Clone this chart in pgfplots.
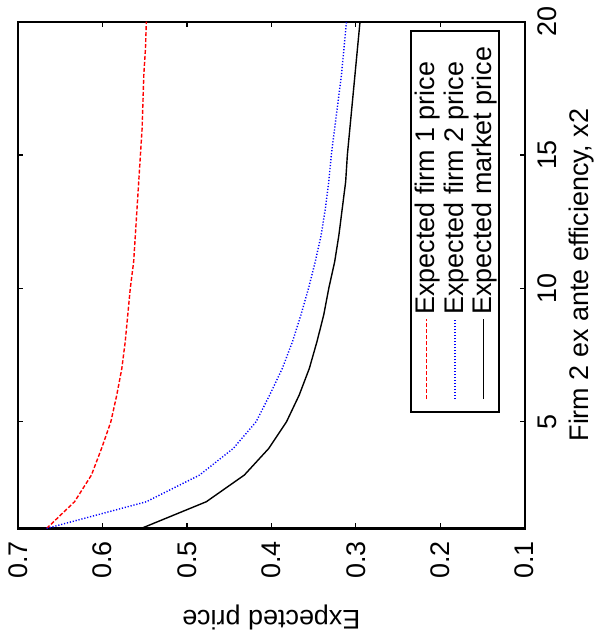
\documentclass[border=0pt]{standalone}
\usepackage{fontspec}
\setmainfont{Liberation Sans}
\usepackage{pgfplots}
\pgfplotsset{compat=1.18}
\begin{document}
\begin{tikzpicture}[rotate=90, transform shape]
\begin{axis}[
  width=254pt, height=254pt, scale only axis,
  xmin=1, xmax=20, ymin=0.1, ymax=0.7,
  xtick={5,10,15,20},
  ytick={0.1,0.2,0.3,0.4,0.5,0.6,0.7},
  yticklabel style={/pgf/number format/fixed, /pgf/number format/precision=1, xshift=-3pt},
  xticklabel style={yshift=-3pt},
  /pgf/number format/assume math mode=true,
  font=\fontsize{13.5}{16}\selectfont,
  tick align=inside, major tick length=2.5pt,
  tick style={line width=0.7pt, black},
  axis line style={line width=1.1pt},
  xlabel={Firm 2 ex ante efficiency, x2},
  ylabel={Expected price},
  xlabel style={inner sep=0pt, yshift=-2.5pt},
  ylabel style={inner sep=0pt, yshift=9.5pt},
  legend style={at={(axis description cs:0.984,0.049)}, anchor=south east, line width=1pt, font=\fontsize{13.5}{16}\selectfont, inner xsep=6pt, inner ysep=0pt, row sep=-1pt},
  legend cell align=left,
  legend image code/.code={\draw[#1, line width=0.7pt] (0pt,0pt) -- (40pt,0pt);},
]
\addplot[color=red, draw=red, line width=0.7pt, dash pattern=on 2pt off 1pt] coordinates {
(1,0.666) (2,0.633) (3,0.613) (4,0.601) (5,0.590) (6,0.583) (7,0.577) (8,0.573) (9,0.570) (10,0.567)
(11,0.563) (12,0.561) (13,0.559) (14,0.557) (15,0.555) (16,0.553) (17,0.552) (18,0.551) (19,0.549) (20,0.548)};
\addlegendentry{Expected firm 1 price}
\addplot[color=blue, draw=blue, line width=0.7pt, dash pattern=on 0.6pt off 0.9pt] coordinates {
(1,0.666) (2,0.548) (3,0.485) (4,0.445) (5,0.418) (6,0.402) (7,0.387) (8,0.375) (9,0.365) (10,0.356)
(11,0.348) (12,0.341) (13,0.336) (14,0.332) (15,0.329) (16,0.325) (17,0.321) (18,0.317) (19,0.314) (20,0.311)};
\addlegendentry{Expected firm 2 price}
\addplot[color=black, draw=black, line width=0.7pt] coordinates {
(1,0.554) (2,0.477) (3,0.432) (4,0.403) (5,0.382) (6,0.367) (7,0.355) (8,0.346) (9,0.338) (10,0.332)
(11,0.325) (12,0.320) (13,0.316) (14,0.312) (15,0.310) (16,0.307) (17,0.304) (18,0.301) (19,0.298) (20,0.295)};
\addlegendentry{Expected market price}
\end{axis}
\path (current axis.north west) ++(0,9pt);
\path (current axis.south east) ++(0,-37pt);
\path (current axis.south west) ++(-50pt,0pt);
\end{tikzpicture}
\end{document}
